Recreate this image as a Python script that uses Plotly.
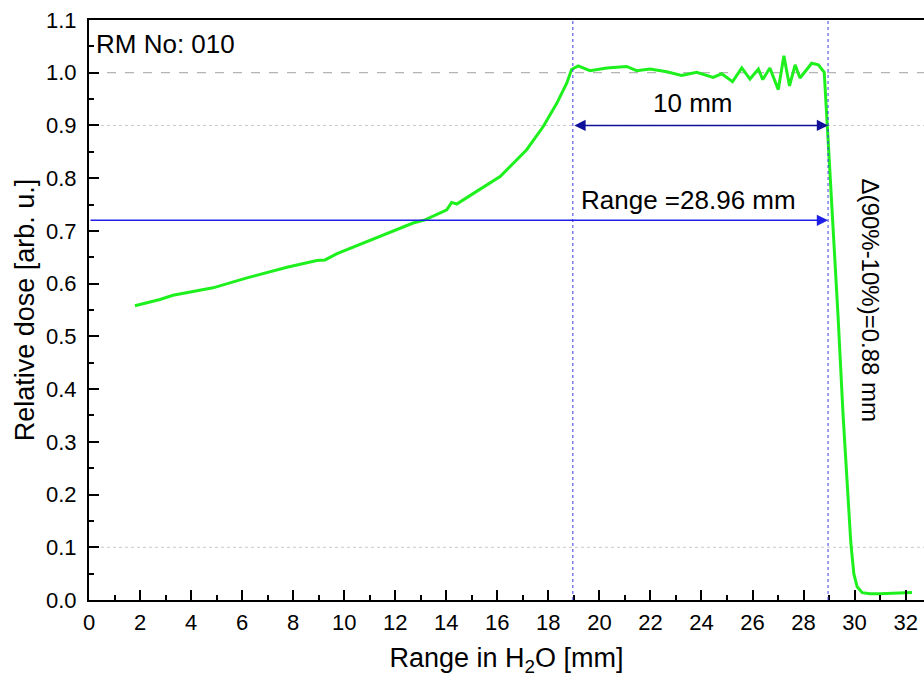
import plotly.graph_objects as go

# Depth-dose profile measured in water (RM No: 010)
depth_mm = [1.80, 2.78, 3.29, 4.86, 6.19, 7.76, 8.93, 9.25, 9.72, 11.40, 12.70,
            13.17, 14.02, 14.21, 14.41, 15.19, 16.11, 17.15, 17.80, 18.33, 18.72,
            18.91, 19.17, 19.63, 20.29, 21.07, 21.46, 21.98, 22.64, 23.22, 23.81,
            24.46, 24.79, 25.22, 25.58, 25.90, 26.23, 26.40, 26.68, 27.01, 27.23,
            27.45, 27.67, 27.86, 28.32, 28.58, 28.81, 28.93, 29.05, 29.20, 29.35,
            29.55, 29.72, 29.85, 29.97, 30.10, 30.30, 30.60, 31.00, 31.50, 32.25]
rel_dose = [0.558, 0.570, 0.578, 0.592, 0.611, 0.631, 0.644, 0.645, 0.657, 0.689, 0.715,
            0.721, 0.740, 0.754, 0.751, 0.775, 0.803, 0.854, 0.898, 0.942, 0.980,
            1.006, 1.013, 1.004, 1.009, 1.012, 1.004, 1.007, 1.002, 0.995, 1.001,
            0.991, 0.998, 0.983, 1.009, 0.988, 1.007, 0.987, 1.009, 0.968, 1.032,
            0.975, 1.015, 0.990, 1.018, 1.015, 1.001, 0.900, 0.800, 0.680, 0.540,
            0.350, 0.220, 0.110, 0.050, 0.025, 0.014, 0.012, 0.012, 0.013, 0.014]

range_90 = 28.96          # distal 90% depth
plateau_len = 10.0        # length of the flat region
arrow_level = 0.72
ref_levels = [1.0, 0.9, 0.1]

FONT = "Liberation Sans, Arial, sans-serif"

fig = go.Figure()
fig.add_trace(go.Scatter(x=depth_mm, y=rel_dose, mode="lines",
                         line=dict(color="#1EF01E", width=3), showlegend=False))

# horizontal reference lines
for lvl in ref_levels:
    fig.add_shape(type="line", xref="paper", yref="y", x0=0, x1=1, y0=lvl, y1=lvl,
                  line=dict(color="#A0A0A0" if lvl == 1.0 else "#C8C8C8", width=1,
                            dash="dash" if lvl == 1.0 else "3px,3px"), layer="below")

# vertical markers at the plateau edges
for xv in [range_90 - plateau_len, range_90]:
    fig.add_shape(type="line", xref="x", yref="paper", x0=xv, x1=xv, y0=0, y1=1,
                  line=dict(color="#3C3CE6", width=1, dash="3px,3px"))

# 10 mm double arrow
fig.add_annotation(x=range_90, y=0.9, ax=range_90 - plateau_len, ay=0.9,
                   xref="x", yref="y", axref="x", ayref="y", text="",
                   showarrow=True, arrowhead=2, arrowside="end+start",
                   arrowsize=1.5, arrowwidth=1.5, arrowcolor="#10109A")
# range arrow
fig.add_annotation(x=range_90, y=arrow_level, ax=0, ay=arrow_level,
                   xref="x", yref="y", axref="x", ayref="y", text="",
                   showarrow=True, arrowhead=2, arrowsize=1.5, arrowwidth=1.5,
                   arrowcolor="#1E1EE6")

fig.add_annotation(x=0.2, y=1.055, xref="x", yref="y", text="RM No: 010",
                   showarrow=False, xanchor="left", font=dict(size=26, color="black", family=FONT))
fig.add_annotation(x=23.65, y=0.943, xref="x", yref="y", text="10 mm",
                   showarrow=False, font=dict(size=26, color="black", family=FONT))
fig.add_annotation(x=23.5, y=0.759, xref="x", yref="y", text="Range =28.96 mm",
                   showarrow=False, font=dict(size=26, color="black", family=FONT))
fig.add_annotation(x=30.62, y=0.569, xref="x", yref="y", text="Δ(90%-10%)=0.88 mm",
                   showarrow=False, textangle=90, font=dict(size=24, color="black", family=FONT))

fig.update_layout(
    width=924, height=677,
    margin=dict(l=89, r=0, t=20, b=77),
    paper_bgcolor="white", plot_bgcolor="white",
    font=dict(family=FONT, color="black", size=22),
    xaxis=dict(range=[0, 32.72], dtick=2, tick0=0, showgrid=False, zeroline=False,
               showline=True, linecolor="black", linewidth=2, mirror=True,
               ticks="inside", ticklen=10, tickwidth=2, tickcolor="black",
               minor=dict(ticks="inside", ticklen=5, tickwidth=2, dtick=1, tickcolor="black"),
               tickfont=dict(size=22), ticklabelstandoff=2,
               title=dict(text="Range in H<sub>2</sub>O [mm]", font=dict(size=27), standoff=14)),
    yaxis=dict(range=[0, 1.1], dtick=0.1, tick0=0, tickformat=".1f", showgrid=False,
               zeroline=False, showline=True, linecolor="black", linewidth=2,
               ticks="inside", ticklen=10, tickwidth=2, tickcolor="black",
               minor=dict(ticks="inside", ticklen=5, tickwidth=2, dtick=0.05, tickcolor="black"),
               tickfont=dict(size=22), ticklabelstandoff=6,
               title=dict(text="Relative dose [arb. u.]", font=dict(size=27), standoff=4)),
)

fig.write_html("out.html")
